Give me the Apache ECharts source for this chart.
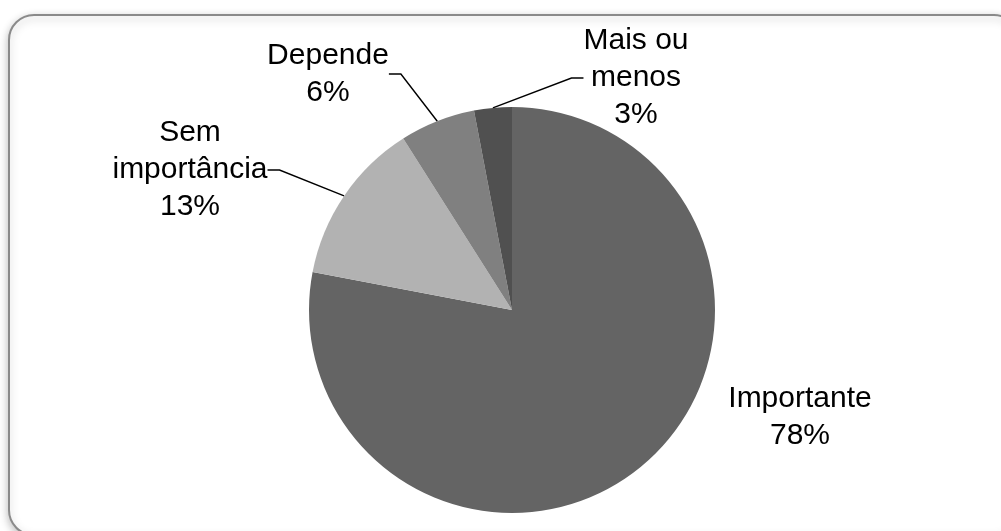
<!DOCTYPE html>
<html>
<head>
<meta charset="utf-8">
<title>Pie</title>
<script src="https://cdn.jsdelivr.net/npm/echarts@6/dist/echarts.min.js"></script>
<style>
  html, body { margin: 0; padding: 0; background: #fff; }
  #chart { width: 1001px; height: 531px; }
</style>
</head>
<body>
<div id="chart"></div>
<script>
// data
const categories = ['Importante', 'Sem importância', 'Depende', 'Mais ou menos']
const labelNames = ['Importante', 'Sem\nimportância', 'Depende', 'Mais ou\nmenos']
const values = [78, 13, 6, 3]
const colors = ['#646464', '#b2b2b2', '#808080', '#505050']

// where each label block sits (centre), in px
const labelPos = [
  { x: 800, y: 417 },
  { x: 190, y: 170 },
  { x: 328, y: 74 },
  { x: 636, y: 78 }
]

const chart = echarts.init(document.getElementById('chart'))

chart.setOption({
  backgroundColor: '#fff',
  animation: false,
  graphic: [{
    type: 'rect',
    shape: { x: 9, y: 15, width: 1010, height: 520, r: 25 },
    style: {
      fill: '#fff',
      stroke: '#8a8a8a',
      lineWidth: 2,
      shadowBlur: 8,
      shadowOffsetY: 3,
      shadowColor: 'rgba(0,0,0,0.25)'
    },
    z: -10
  }],
  series: [{
    type: 'pie',
    center: [512, 310],
    radius: 203,
    startAngle: 90,
    clockwise: true,
    data: categories.map((c, i) => ({
      name: c,
      value: values[i],
      itemStyle: { color: colors[i] },
      labelLine: { show: i !== 0 }
    })),
    label: {
      show: true,
      position: 'outside',
      fontFamily: 'Liberation Sans, Arial, sans-serif',
      fontSize: 30,
      lineHeight: 37,
      color: '#000',
      align: 'center',
      formatter(p) {
        return labelNames[p.dataIndex] + '\n' + Math.round(p.percent) + '%'
      }
    },
    labelLine: {
      show: true,
      length: 20,
      length2: 12,
      lineStyle: { color: '#000', width: 1.4 }
    },
    labelLayout(params) {
      const pos = labelPos[params.dataIndex]
      return {
        x: pos.x,
        y: pos.y,
        align: 'center',
        verticalAlign: 'middle',
        hideOverlap: false
      }
    }
  }]
})
</script>
</body>
</html>
